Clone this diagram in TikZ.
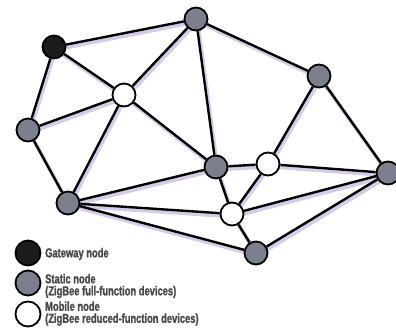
\documentclass[tikz,border=0pt]{standalone}
\usepackage{fontspec}
\setmainfont{Liberation Sans}[FakeStretch=0.72, FakeBold=1.5, UprightFont={* Bold}]
\definecolor{statfill}{HTML}{7C808E}
\definecolor{gatefill}{HTML}{1C1C1C}
\definecolor{shadowc}{HTML}{D4CCE8}
\definecolor{legtext}{HTML}{4A4A4A}
\tikzset{
  netnode/.style={circle, draw=black, line width=1.8pt, minimum size=23pt, inner sep=0pt},
  gateway/.style={netnode, fill=gatefill},
  static/.style={netnode, fill=statfill},
  mobile/.style={netnode, fill=white},
  legnode/.style={minimum size=25pt},
  link/.style={line width=2.4pt, black},
  linkshadow/.style={line width=4pt, shadowc, transform canvas={shift={(1.5pt,-2.5pt)}}},
  legtxt/.style={anchor=west, font=\fontsize{13}{12}\selectfont, text=legtext, align=left, inner sep=0pt}
}
\begin{document}
\begin{tikzpicture}[x=1pt,y=-1pt]
\useasboundingbox (0,0) rectangle (396,336);
\coordinate (pG) at (54,47);
\coordinate (pA) at (196,19);
\coordinate (pB) at (319,76);
\coordinate (pM1) at (124,95);
\coordinate (pL) at (28,130);
\coordinate (pC) at (216,167);
\coordinate (pM2) at (268,164);
\coordinate (pR) at (388,173);
\coordinate (pM3) at (232,214);
\coordinate (pBL) at (68,203);
\coordinate (pBR) at (256,253);
% shadows of links
\foreach \a/\b in {pG/pA,pG/pM1,pG/pL,pA/pM1,pA/pB,pA/pC,pM1/pL,pM1/pBL,pM1/pC,pB/pM2,pB/pR,pL/pBL,pBL/pC,pBL/pM3,pBL/pBR,pC/pM2,pC/pM3,pM2/pM3,pM2/pR,pM3/pR,pM3/pBR,pBR/pR}
  \draw[linkshadow] (\a) -- (\b);
% nodes
\node[gateway] (G) at (pG) {};
\node[static] (A) at (pA) {};
\node[static] (B) at (pB) {};
\node[mobile] (M1) at (pM1) {};
\node[static] (L) at (pL) {};
\node[static] (C) at (pC) {};
\node[mobile] (M2) at (pM2) {};
\node[static] (R) at (pR) {};
\node[mobile] (M3) at (pM3) {};
\node[static] (BL) at (pBL) {};
\node[static] (BR) at (pBR) {};
% links
\foreach \a/\b in {G/A,G/M1,G/L,A/M1,A/B,A/C,M1/L,M1/BL,M1/C,B/M2,B/R,L/BL,BL/C,BL/M3,BL/BR,C/M2,C/M3,M2/M3,M2/R,M3/R,M3/BR,BR/R}
  \draw[link] (\a) -- (\b);
% legend
\node[gateway, legnode] (lg) at (28,253) {};
\node[static, legnode] (ls) at (28,283) {};
\node[mobile, legnode] (lm) at (28,314) {};
\node[legtxt] (tg) at (45,254) {Gateway node};
\node[legtxt] (ts) at (45,286) {Static node\\(ZigBee full-function devices)};
\node[legtxt] (tm) at (45,313.5) {Mobile node\\(ZigBee reduced-function devices)};
\end{tikzpicture}
\end{document}
